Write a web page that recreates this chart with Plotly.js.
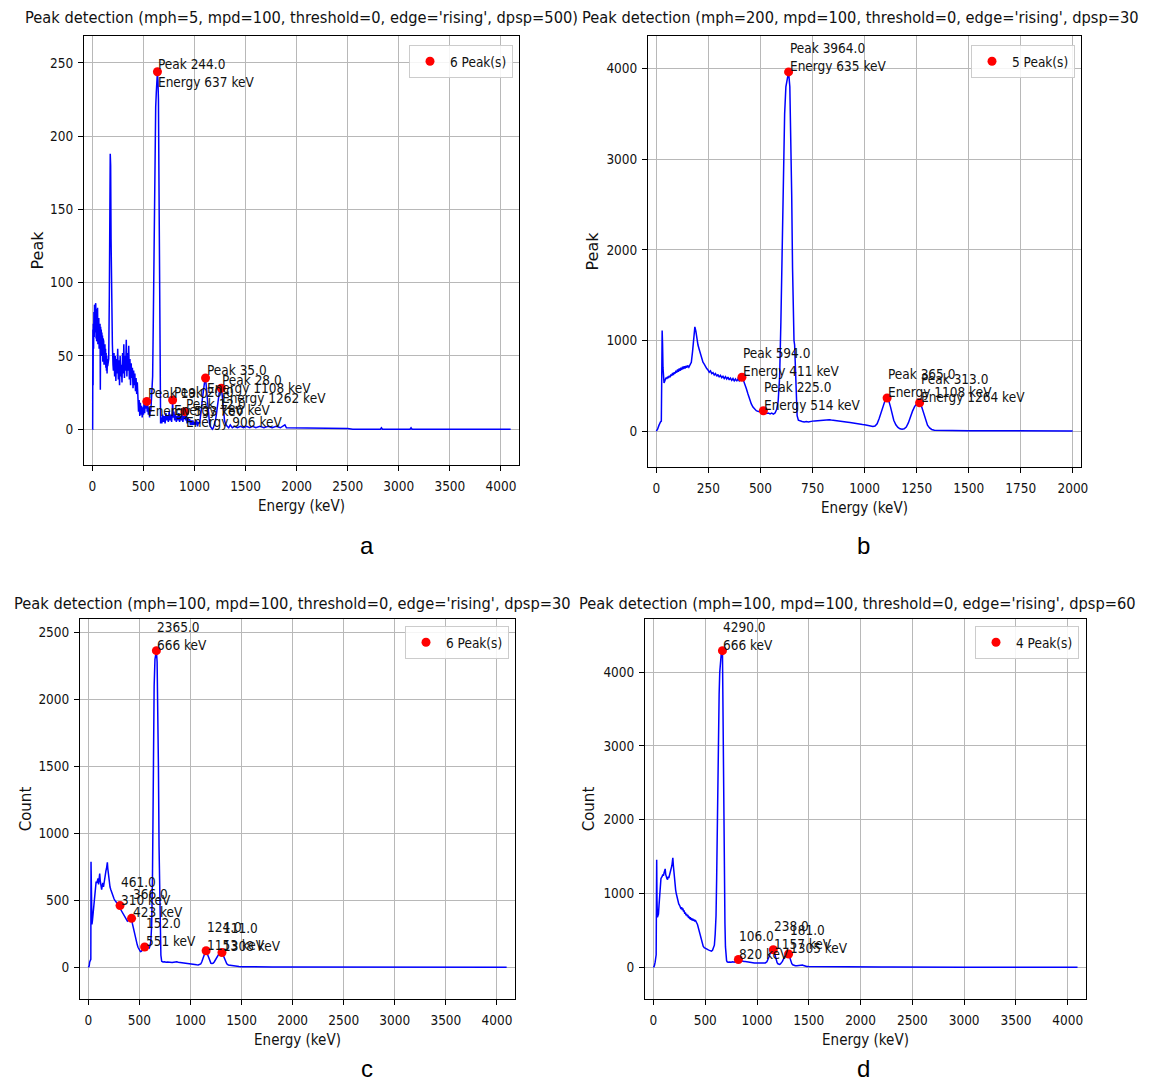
<!DOCTYPE html>
<html><head><meta charset="utf-8">
<script src="https://cdn.plot.ly/plotly-3.0.1.min.js"></script>
<style>html,body{margin:0;padding:0;background:#fff}#chart{width:1152px;height:1082px}</style>
</head><body><div id="chart"></div>
<script>
// ---------------- DATA ----------------
const titles = [
  "Peak detection (mph=5, mpd=100, threshold=0, edge='rising', dpsp=500)",
  "Peak detection (mph=200, mpd=100, threshold=0, edge='rising', dpsp=30",
  "Peak detection (mph=100, mpd=100, threshold=0, edge='rising', dpsp=30",
  "Peak detection (mph=100, mpd=100, threshold=0, edge='rising', dpsp=60"
];
const panelLetters = ['a', 'b', 'c', 'd'];
const yTitles = ['Peak', 'Peak', 'Count', 'Count'];
const xTitle = 'Energy (keV)';

// spectra: [energy keV, count]
const aSpectrum = [[0,0],[3,0],[5,68],[7,30],[9,72],[12,55],[15,80],[18,63],[21,85],[24,66],[27,84],[30,70],[33,86],[36,62],[39,82],[42,60],[45,80],[48,66],[51,83],[54,58],[57,78],[60,64],[63,76],[66,55],[69,74],[72,60],[75,72],[78,27],[81,70],[84,55],[87,68],[90,50],[93,66],[96,56],[99,64],[102,46],[105,62],[108,50],[111,60],[114,44],[117,57],[120,48],[123,58],[126,44],[129,55],[132,42],[135,52],[138,40],[141,50],[144,38],[147,48],[150,43],[154,45],[160,48],[166,90],[171,150],[175,188],[179,180],[183,130],[187,95],[191,72],[196,58],[202,44],[206,40],[212,52],[218,36],[224,50],[230,33],[236,48],[242,38],[248,55],[254,34],[260,47],[266,30],[272,50],[278,36],[284,44],[290,32],[296,52],[302,38],[308,58],[314,35],[320,50],[326,40],[332,61],[338,36],[344,52],[350,40],[356,57],[362,34],[368,48],[374,30],[380,45],[386,35],[392,42],[398,28],[404,40],[410,30],[416,38],[422,26],[428,35],[434,24],[440,32],[446,20],[452,12],[458,20],[464,9],[470,18],[476,10],[482,16],[488,8],[494,15],[500,10],[506,18],[512,11],[518,20],[524,14],[530,17],[533,19],[537,12],[542,17],[548,10],[554,15],[560,8],[566,14],[572,12],[578,18],[584,25],[590,36],[596,70],[602,120],[608,170],[614,205],[620,220],[626,230],[631,238],[637,244],[642,238],[647,225],[651,180],[655,110],[659,45],[663,12],[668,4],[674,8],[680,4],[688,10],[696,5],[704,9],[712,4],[720,11],[728,6],[736,9],[744,5],[752,12],[760,6],[768,10],[776,5],[782,12],[786,20],[790,8],[798,12],[806,6],[814,10],[822,5],[830,9],[838,6],[846,11],[854,5],[862,9],[870,6],[878,10],[886,5],[894,9],[900,7],[906,12],[912,6],[920,9],[928,4],[936,8],[944,5],[952,7],[960,3],[968,6],[976,3],[984,6],[992,3],[1000,5],[1010,3],[1020,6],[1030,2],[1040,5],[1050,4],[1060,8],[1068,14],[1076,20],[1084,26],[1092,30],[1100,33],[1108,35],[1115,30],[1123,22],[1131,14],[1139,8],[1147,4],[1155,2],[1165,1],[1175,0],[1185,1],[1195,3],[1205,6],[1214,10],[1223,16],[1232,21],[1242,25],[1252,27],[1262,28],[1270,24],[1278,17],[1286,10],[1294,6],[1302,4],[1310,3],[1320,2],[1335,1],[1350,3],[1370,1],[1390,2],[1420,1],[1450,2],[1480,1],[1510,2],[1540,1],[1570,2],[1600,1],[1640,2],[1680,1],[1720,2],[1760,1],[1800,2],[1840,1],[1870,2],[1885,3],[1900,1],[1950,1],[2000,0.5],[2050,1],[2100,0.5],[2150,1],[2200,0.5],[2250,1],[2300,0.5],[2400,1],[2500,0.5],[2550,0],[2820,0],[2830,1],[2840,0],[3110,0],[3120,1],[3130,0],[4095,0]];
const aPeakEnergy = [533, 637, 786, 906, 1108, 1262];
const aPeakCount  = [19, 244, 20, 12, 35, 28];

const bSpectrum = [[0,0],[6,20],[12,60],[16,90],[20,100],[24,110],[26,400],[28,1110],[30,950],[32,700],[34,560],[37,530],[42,560],[46,590],[50,575],[54,600],[58,585],[62,610],[66,595],[70,625],[74,610],[78,640],[82,620],[86,650],[90,635],[94,665],[98,645],[102,680],[106,655],[110,690],[114,665],[118,700],[122,675],[126,710],[130,685],[134,715],[138,690],[142,720],[146,700],[150,725],[156,705],[162,730],[168,760],[174,880],[180,1050],[185,1150],[190,1100],[195,1000],[200,950],[206,900],[212,850],[218,800],[224,760],[230,740],[236,710],[242,690],[248,675],[254,650],[260,665],[266,635],[272,645],[278,620],[284,635],[290,605],[296,625],[302,595],[308,615],[314,590],[320,605],[326,580],[332,600],[338,575],[344,595],[350,565],[356,585],[362,560],[368,580],[374,555],[380,575],[386,550],[392,575],[398,555],[404,580],[411,594],[418,560],[425,520],[432,470],[440,410],[448,350],[456,300],[464,265],[472,240],[480,225],[490,215],[500,212],[508,218],[514,225],[522,205],[530,195],[538,200],[546,190],[554,198],[562,188],[570,200],[578,240],[585,330],[592,600],[598,1200],[604,2000],[610,2900],[616,3500],[622,3800],[628,3900],[635,3964],[641,3800],[646,3300],[650,2600],[654,1800],[658,1200],[661,1000],[664,950],[668,600],[672,300],[676,170],[682,120],[690,110],[700,105],[710,100],[720,105],[730,100],[740,108],[750,110],[760,112],[770,115],[780,118],[790,120],[800,122],[810,125],[820,124],[830,126],[840,122],[850,120],[860,118],[870,115],[880,112],[890,108],[900,105],[910,100],[920,98],[930,95],[940,90],[950,86],[960,82],[970,80],[980,75],[990,72],[1000,70],[1010,65],[1020,60],[1030,55],[1040,52],[1050,55],[1060,80],[1070,140],[1080,220],[1090,300],[1100,350],[1108,365],[1116,335],[1124,270],[1132,190],[1140,120],[1150,70],[1160,40],[1170,25],[1180,20],[1190,25],[1200,45],[1210,90],[1220,160],[1230,220],[1240,270],[1250,300],[1258,310],[1264,313],[1271,290],[1278,240],[1286,170],[1294,110],[1302,65],[1312,35],[1322,18],[1335,10],[1350,8],[1380,7],[1420,6],[1500,5],[1600,4],[1700,4],[1800,3],[1900,3],[1999,2]];
const bPeakEnergy = [411, 514, 635, 1108, 1264];
const bPeakCount  = [594, 225, 3964, 365, 313];

const cSpectrum = [[0,0],[8,10],[13,40],[20,50],[24,60],[26,789],[28,500],[31,330],[35,320],[40,350],[46,400],[52,450],[58,500],[64,580],[70,620],[76,640],[82,630],[88,660],[95,664],[100,620],[105,680],[111,701],[116,650],[121,610],[126,600],[130,580],[136,610],[142,630],[148,600],[154,640],[160,660],[166,690],[172,720],[178,740],[182,760],[186,784],[190,740],[195,700],[200,660],[206,630],[212,600],[220,580],[228,560],[236,540],[244,525],[252,510],[260,500],[268,490],[276,480],[284,475],[292,468],[300,462],[310,461],[318,430],[326,420],[334,410],[342,400],[350,385],[358,370],[366,360],[374,350],[382,345],[390,350],[398,355],[406,340],[414,350],[423,366],[430,330],[438,300],[446,270],[454,240],[462,210],[470,190],[478,170],[486,150],[494,135],[502,125],[510,118],[518,120],[528,125],[538,130],[545,140],[551,152],[558,140],[565,135],[572,140],[580,145],[588,150],[596,145],[604,160],[612,200],[620,320],[628,700],[636,1500],[644,2100],[652,2300],[660,2340],[666,2365],[673,2280],[680,2000],[686,1500],[692,900],[698,500],[704,250],[710,90],[718,45],[730,40],[745,42],[760,38],[775,40],[790,37],[805,39],[820,36],[835,38],[850,40],[865,41],[880,38],[895,36],[910,33],[925,32],[940,30],[955,28],[970,27],[985,25],[1000,24],[1015,22],[1030,21],[1045,20],[1060,19],[1075,18],[1090,20],[1100,25],[1110,40],[1120,65],[1130,90],[1140,112],[1148,122],[1153,124],[1160,110],[1170,80],[1180,55],[1190,38],[1200,30],[1210,28],[1220,30],[1232,40],[1244,55],[1256,75],[1268,92],[1280,103],[1292,108],[1300,110],[1308,111],[1316,98],[1325,78],[1335,55],[1345,38],[1355,26],[1370,18],[1390,15],[1410,14],[1430,13],[1450,10],[1475,7],[1500,5],[1550,4],[1600,3],[1700,3],[1800,3],[1900,3],[2000,3],[2100,2],[2200,2],[2300,3],[2400,3],[2500,3],[2600,4],[2620,2],[2700,1],[3000,1],[3500,1],[4095,1]];
const cPeakEnergy = [310, 423, 551, 666, 1153, 1308];
const cPeakCount  = [461, 366, 152, 2365, 124, 111];

const dSpectrum = [[0,0],[8,20],[16,70],[22,120],[26,170],[29,1000],[31,1457],[34,900],[38,680],[42,700],[48,720],[54,850],[60,1000],[66,1100],[72,1200],[78,1220],[84,1230],[90,1260],[96,1240],[102,1280],[108,1300],[113,1333],[118,1260],[124,1220],[130,1200],[136,1190],[142,1230],[148,1210],[154,1240],[160,1260],[166,1300],[172,1340],[178,1380],[183,1440],[187,1484],[192,1380],[197,1280],[202,1200],[208,1120],[214,1050],[220,1000],[228,940],[236,890],[244,860],[252,840],[260,820],[266,790],[272,815],[278,775],[284,800],[290,755],[296,770],[302,725],[308,745],[314,705],[320,725],[326,690],[332,710],[338,670],[344,690],[350,655],[356,680],[362,645],[368,665],[374,635],[380,660],[386,630],[392,650],[398,620],[404,640],[410,605],[418,600],[425,580],[432,540],[440,490],[448,450],[456,400],[464,350],[472,310],[480,285],[490,265],[500,255],[510,245],[520,240],[530,236],[540,230],[550,225],[560,220],[570,230],[580,260],[588,300],[596,450],[604,700],[610,1200],[616,2000],[622,2800],[628,3300],[634,3700],[640,4000],[648,4200],[656,4270],[666,4290],[670,3500],[675,2800],[680,1700],[685,1000],[690,600],[695,280],[700,150],[706,90],[712,75],[720,70],[735,72],[750,68],[765,75],[780,70],[795,80],[805,85],[812,95],[820,106],[828,90],[836,85],[845,88],[855,82],[865,86],[875,80],[885,78],[895,75],[905,72],[915,70],[925,68],[935,66],[945,65],[960,62],[975,60],[990,58],[1005,57],[1020,55],[1035,54],[1050,55],[1065,56],[1080,60],[1095,75],[1105,100],[1115,140],[1125,185],[1135,215],[1145,232],[1152,236],[1157,238],[1163,220],[1170,180],[1178,130],[1186,90],[1194,62],[1202,48],[1210,42],[1218,40],[1226,45],[1235,58],[1245,80],[1255,110],[1265,140],[1275,162],[1285,172],[1295,178],[1305,181],[1312,150],[1320,110],[1328,75],[1336,50],[1345,35],[1355,26],[1370,22],[1385,20],[1400,22],[1415,28],[1425,34],[1432,36],[1440,32],[1450,24],[1465,15],[1480,12],[1500,10],[1550,9],[1600,8],[1700,7],[1800,7],[1900,6],[2000,6],[2100,5],[2200,5],[2300,5],[2400,6],[2500,6],[2600,7],[2620,3],[2700,2],[3000,2],[3500,2],[4095,1]];
const dPeakEnergy = [666, 820, 1157, 1305];
const dPeakCount  = [4290, 106, 238, 181];

// ---------------- LAYOUT / STYLE ----------------
const W = 1152, H = 1082;
const FONT = '"DejaVu Sans Condensed", "Liberation Sans Narrow", "DejaVu Sans", sans-serif';
const FONT_REG = '"DejaVu Sans", sans-serif';
const TXT = '#111111';
const px = v => v / W;
const py = v => 1 - v / H;

const panels = [
  {spec: aSpectrum, pe: aPeakEnergy, pc: aPeakCount, xd: [84, 519], yd: [36, 465], dx: 500, dy: 50,
   lab: 'long', anchorMid: true, title: {x: 301, y: 18, anchor: 'center'}, leg: {r: 513, t: 45}, letter: [367, 545], ytSize: 16, ytStand: 2},
  {spec: bSpectrum, pe: bPeakEnergy, pc: bPeakCount, xd: [648, 1081], yd: [36, 467], dx: 250, dy: 1000,
   lab: 'long', anchorMid: false, title: {x: 580, y: 18, anchor: 'left'}, leg: {r: 1075, t: 45}, letter: [863, 545], ytSize: 16, ytStand: 3},
  {spec: cSpectrum, pe: cPeakEnergy, pc: cPeakCount, xd: [80, 515], yd: [619, 999], dx: 500, dy: 500,
   lab: 'short', anchorMid: false, title: {x: 12, y: 603, anchor: 'left'}, leg: {r: 509, t: 626}, letter: [367, 1068], ytSize: 15, ytStand: 3},
  {spec: dSpectrum, pe: dPeakEnergy, pc: dPeakCount, xd: [645, 1086], yd: [619, 999], dx: 500, dy: 1000,
   lab: 'short', anchorMid: false, title: {x: 577, y: 603, anchor: 'left'}, leg: {r: 1079, t: 626}, letter: [863, 1068], ytSize: 15, ytStand: 5}
];

const traces = [];
const layout = {
  width: W, height: H, margin: {l: 0, r: 0, t: 0, b: 0},
  paper_bgcolor: '#ffffff', plot_bgcolor: '#ffffff',
  font: {family: FONT, size: 13, color: TXT},
  showlegend: true, annotations: []
};

panels.forEach((p, i) => {
  const n = i === 0 ? '' : String(i + 1);
  const xs = p.spec.map(d => d[0]);
  const ys = p.spec.map(d => d[1]);
  const xmin = Math.min(...xs), xmax = Math.max(...xs);
  const ymin = Math.min(...ys), ymax = Math.max(...ys);
  const xspan = xmax - xmin, yspan = ymax - ymin;

  const axCommon = {
    showgrid: true, gridcolor: '#b8b8b8', gridwidth: 1, zeroline: false,
    showline: true, linecolor: '#000000', linewidth: 1, mirror: true,
    ticks: 'outside', ticklen: 5, tickwidth: 1, tickcolor: '#000000',
    tickfont: {family: FONT, size: 13.5, color: TXT}
  };
  layout['xaxis' + n] = Object.assign({}, axCommon, {
    domain: [px(p.xd[0]), px(p.xd[1])], anchor: 'y' + n,
    range: [xmin - 0.02 * xspan, xmax + 0.02 * xspan], dtick: p.dx, tick0: 0,
    ticklabelstandoff: 4,
    title: {text: xTitle, font: {family: FONT, size: 15, color: TXT}, standoff: 7}
  });
  layout['yaxis' + n] = Object.assign({}, axCommon, {
    domain: [py(p.yd[1]), py(p.yd[0])], anchor: 'x' + n,
    range: [ymin - 0.1 * yspan, ymax + 0.1 * yspan], dtick: p.dy, tick0: 0,
    ticklabelstandoff: 2,
    title: {text: yTitles[i], font: {family: FONT_REG, size: p.ytSize, color: TXT}, standoff: p.ytStand}
  });

  traces.push({
    type: 'scatter', mode: 'lines', x: xs, y: ys, xaxis: 'x' + n, yaxis: 'y' + n,
    line: {color: '#0000ff', width: 1.5}, showlegend: false, hoverinfo: 'skip'
  });
  const legName = i === 0 ? 'legend' : 'legend' + (i + 1);
  traces.push({
    type: 'scatter', mode: 'markers', x: p.pe, y: p.pc, xaxis: 'x' + n, yaxis: 'y' + n,
    marker: {color: '#ff0000', size: 9}, name: p.pe.length + ' Peak(s)', legend: legName
  });
  layout[legName] = {
    x: px(p.leg.r), xanchor: 'right', y: py(p.leg.t), yanchor: 'top',
    bgcolor: 'rgba(255,255,255,0.85)', bordercolor: '#cccccc', borderwidth: 1,
    font: {family: FONT, size: 13.5, color: TXT}, tracegroupgap: 0
  };

  p.pe.forEach((e, k) => {
    const c = p.pc[k];
    const text = p.lab === 'long'
      ? 'Peak ' + c.toFixed(1) + '<br>Energy ' + e + ' keV'
      : c.toFixed(1) + '<br>' + e + ' keV';
    layout.annotations.push({
      xref: 'x' + n, yref: 'y' + n, x: e, y: c, text: text, showarrow: false,
      xanchor: 'left', yanchor: p.anchorMid ? 'middle' : 'bottom', align: 'left',
      yshift: p.anchorMid ? -1 : -4, xshift: -1,
      font: {family: FONT, size: 13.5, color: TXT}
    });
  });

  layout.annotations.push({
    xref: 'paper', yref: 'paper', x: px(p.title.x), y: py(p.title.y),
    xanchor: p.title.anchor, yanchor: 'middle', showarrow: false,
    text: titles[i], font: {family: FONT, size: 16.3, color: TXT}
  });
  layout.annotations.push({
    xref: 'paper', yref: 'paper', x: px(p.letter[0]), y: py(p.letter[1]),
    xanchor: 'center', yanchor: 'middle', showarrow: false,
    text: panelLetters[i], font: {family: '"Liberation Sans", Arial, sans-serif', size: 24, color: '#000000'}
  });
});

Plotly.newPlot('chart', traces, layout, {displayModeBar: false, staticPlot: true});
</script>
</body></html>
